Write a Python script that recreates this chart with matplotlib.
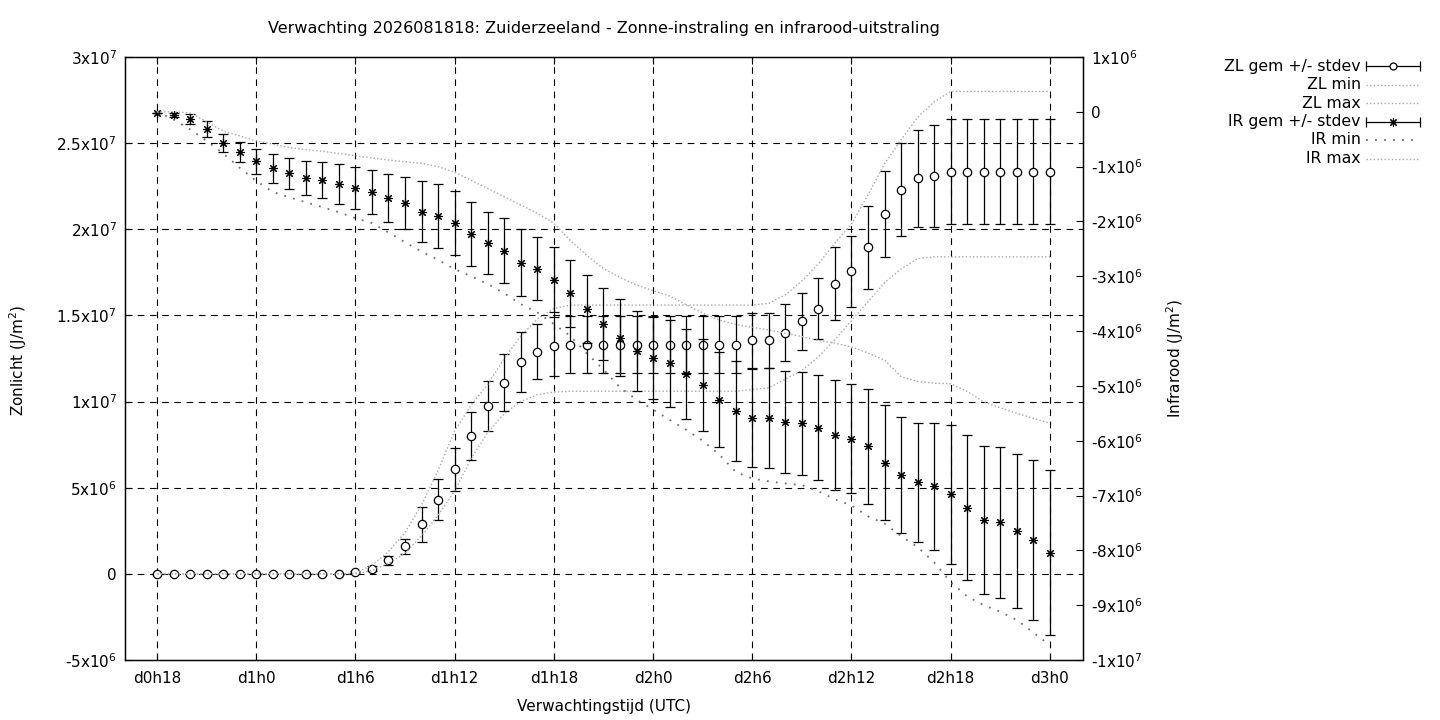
import matplotlib
matplotlib.use("Agg")
import matplotlib.pyplot as plt
import numpy as np
from matplotlib.lines import Line2D

# ---------------- data ----------------
hours = list(range(55))
x_tick_pos = [0, 6, 12, 18, 24, 30, 36, 42, 48, 54]
x_tick_labels = ["d0h18", "d1h0", "d1h6", "d1h12", "d1h18", "d2h0", "d2h6", "d2h12", "d2h18", "d3h0"]

zl_mean = [0, 0, 0, 0, 0, 0, 0, 0, 0, 0, 0, 0,
           0.1e6, 0.3e6, 0.78e6, 1.6e6, 2.87e6, 4.3e6, 6.06e6, 8.0e6, 9.72e6, 11.1e6,
           12.3e6, 12.9e6, 13.2e6, 13.3e6, 13.3e6, 13.3e6, 13.3e6, 13.3e6, 13.3e6, 13.3e6,
           13.3e6, 13.3e6, 13.3e6, 13.3e6, 13.55e6, 13.55e6, 14.0e6, 14.65e6, 15.4e6, 16.85e6,
           17.55e6, 18.95e6, 20.9e6, 22.3e6, 22.95e6, 23.1e6, 23.35e6, 23.35e6, 23.35e6,
           23.35e6, 23.35e6, 23.35e6, 23.35e6]
zl_std = [0, 0, 0, 0, 0, 0, 0, 0, 0, 0, 0, 0,
          0.05e6, 0.15e6, 0.25e6, 0.45e6, 1.0e6, 1.2e6, 1.25e6, 1.4e6, 1.45e6, 1.65e6,
          1.75e6, 1.6e6, 1.7e6, 1.65e6, 1.65e6, 1.65e6, 1.65e6, 1.65e6, 1.65e6, 1.65e6,
          1.65e6, 1.65e6, 1.65e6, 1.65e6, 1.6e6, 1.6e6, 1.65e6, 1.65e6, 1.77e6, 2.1e6,
          2.05e6, 2.4e6, 2.5e6, 2.7e6, 2.8e6, 2.95e6, 3.05e6, 3.05e6, 3.05e6,
          3.05e6, 3.05e6, 3.05e6, 3.05e6]
zl_min = [0, 0, 0, 0, 0, 0, 0, 0, 0, 0, 0, 0,
          0, 0.2e6, 0.6e6, 1.2e6, 2.2e6, 3.4e6, 4.8e6, 6.7e6, 8.2e6, 9.3e6,
          10.0e6, 10.4e6, 10.55e6, 10.6e6, 10.6e6, 10.6e6, 10.6e6, 10.6e6, 10.6e6, 10.6e6,
          10.6e6, 10.6e6, 10.6e6, 10.6e6, 10.7e6, 10.8e6, 11.3e6, 11.8e6, 12.6e6, 13.6e6,
          14.7e6, 15.8e6, 16.9e6, 17.7e6, 18.3e6, 18.4e6, 18.4e6, 18.4e6, 18.4e6,
          18.4e6, 18.4e6, 18.4e6, 18.4e6]
zl_max = [0, 0, 0, 0, 0, 0, 0, 0, 0, 0, 0, 0,
          0.05e6, 0.5e6, 1.3e6, 2.4e6, 4.0e6, 6.0e6, 8.3e6, 9.8e6, 11.0e6, 12.5e6,
          13.8e6, 14.8e6, 15.4e6, 15.6e6, 15.6e6, 15.6e6, 15.6e6, 15.6e6, 15.6e6, 15.6e6,
          15.6e6, 15.6e6, 15.6e6, 15.6e6, 15.6e6, 15.7e6, 16.2e6, 17.0e6, 18.0e6, 19.2e6,
          20.3e6, 22.0e6, 23.8e6, 25.2e6, 26.5e6, 27.4e6, 28.0e6, 28.0e6, 28.0e6,
          28.0e6, 28.0e6, 28.0e6, 28.0e6]

ir_mean = [-0.02e6, -0.06e6, -0.13e6, -0.31e6, -0.57e6, -0.73e6, -0.90e6, -1.03e6, -1.12e6, -1.20e6,
           -1.24e6, -1.32e6, -1.39e6, -1.47e6, -1.57e6, -1.66e6, -1.82e6, -1.90e6, -2.03e6, -2.23e6,
           -2.39e6, -2.53e6, -2.75e6, -2.86e6, -3.06e6, -3.31e6, -3.60e6, -3.87e6, -4.12e6, -4.37e6,
           -4.49e6, -4.59e6, -4.78e6, -4.99e6, -5.25e6, -5.46e6, -5.59e6, -5.59e6, -5.65e6, -5.68e6,
           -5.76e6, -5.90e6, -5.96e6, -6.10e6, -6.40e6, -6.63e6, -6.76e6, -6.83e6, -6.98e6, -7.22e6,
           -7.45e6, -7.49e6, -7.65e6, -7.81e6, -8.04e6]
ir_std = [0.0, 0.03e6, 0.09e6, 0.15e6, 0.16e6, 0.18e6, 0.23e6, 0.26e6, 0.28e6, 0.31e6,
          0.33e6, 0.36e6, 0.38e6, 0.40e6, 0.44e6, 0.47e6, 0.56e6, 0.58e6, 0.59e6, 0.58e6,
          0.57e6, 0.59e6, 0.61e6, 0.57e6, 0.59e6, 0.61e6, 0.62e6, 0.66e6, 0.70e6, 0.73e6,
          0.75e6, 0.80e6, 0.82e6, 0.84e6, 0.87e6, 0.91e6, 0.89e6, 0.91e6, 0.93e6, 0.94e6,
          0.95e6, 1.0e6, 1.0e6, 1.05e6, 1.05e6, 1.06e6, 1.08e6, 1.16e6, 1.26e6, 1.32e6,
          1.35e6, 1.38e6, 1.40e6, 1.46e6, 1.51e6]
ir_min = [0, -0.14e6, -0.32e6, -0.53e6, -0.76e6, -1.02e6, -1.26e6, -1.46e6, -1.56e6, -1.65e6,
          -1.74e6, -1.83e6, -1.94e6, -2.03e6, -2.20e6, -2.38e6, -2.55e6, -2.70e6, -2.87e6, -3.00e6,
          -3.14e6, -3.31e6, -3.51e6, -3.66e6, -3.87e6, -4.09e6, -4.41e6, -4.70e6, -5.03e6, -5.25e6,
          -5.43e6, -5.62e6, -5.80e6, -6.00e6, -6.25e6, -6.57e6, -6.69e6, -6.74e6, -6.78e6, -6.81e6,
          -6.92e6, -7.07e6, -7.18e6, -7.38e6, -7.51e6, -7.74e6, -7.94e6, -8.22e6, -8.58e6, -8.84e6,
          -9.00e6, -9.12e6, -9.27e6, -9.50e6, -9.73e6]
ir_max = [0, 0, -0.02e6, -0.18e6, -0.35e6, -0.44e6, -0.53e6, -0.59e6, -0.65e6, -0.69e6,
          -0.72e6, -0.76e6, -0.80e6, -0.84e6, -0.88e6, -0.91e6, -0.94e6, -1.00e6, -1.10e6, -1.25e6,
          -1.40e6, -1.55e6, -1.70e6, -1.85e6, -2.03e6, -2.35e6, -2.62e6, -2.86e6, -3.02e6, -3.16e6,
          -3.26e6, -3.36e6, -3.52e6, -3.67e6, -3.80e6, -3.88e6, -3.93e6, -3.98e6, -4.04e6, -4.10e6,
          -4.17e6, -4.22e6, -4.29e6, -4.40e6, -4.53e6, -4.83e6, -4.92e6, -4.95e6, -4.96e6, -5.10e6,
          -5.29e6, -5.40e6, -5.50e6, -5.59e6, -5.68e6]

left_ticks = [-5e6, 0, 5e6, 1e7, 1.5e7, 2e7, 2.5e7, 3e7]
left_tick_labels = [r"-5x10$^{6}$", "0", r"5x10$^{6}$", r"1x10$^{7}$", r"1.5x10$^{7}$",
                    r"2x10$^{7}$", r"2.5x10$^{7}$", r"3x10$^{7}$"]
right_ticks = [1e6, 0, -1e6, -2e6, -3e6, -4e6, -5e6, -6e6, -7e6, -8e6, -9e6, -1e7]
right_tick_labels = [r"1x10$^{6}$", "0", r"-1x10$^{6}$", r"-2x10$^{6}$", r"-3x10$^{6}$",
                     r"-4x10$^{6}$", r"-5x10$^{6}$", r"-6x10$^{6}$", r"-7x10$^{6}$",
                     r"-8x10$^{6}$", r"-9x10$^{6}$", r"-1x10$^{7}$"]

legend_labels = ["ZL gem +/- stdev", "ZL min", "ZL max", "IR gem +/- stdev", "IR min", "IR max"]

title = "Verwachting 2026081818: Zuiderzeeland - Zonne-instraling en infrarood-uitstraling"

# ---------------- styles ----------------
plt.rcParams["font.family"] = ["DejaVu Sans"]
plt.rcParams["font.size"] = 11
FS = 11
light = dict(color="#a8a8a8", lw=1.0, ls=(0, (1, 1.6)))
dark_dot = dict(color="#707070", lw=1.3, ls=(0, (1, 4)))
asterisk = (8, 2, 0)
EW = 0.9

W, H = 1440, 720
fig = plt.figure(figsize=(W / 100, H / 100), dpi=100)
L, R, T, B = 125, 1083, 57, 660
ax = fig.add_axes([L / W, 1 - B / H, (R - L) / W, (B - T) / H])
ax2 = ax.twinx()

ax.set_xlim(-1.935, 56.0)
ax.set_ylim(-5e6, 3e7)
ax2.set_ylim(-1e7, 1e6)

# grid
for xv in x_tick_pos:
    ax.axvline(xv, color="black", lw=0.8, ls=(0, (6, 5)), zorder=0.5)
for yv in left_ticks[1:-1]:
    ax.axhline(yv, color="black", lw=0.8, ls=(0, (6, 5)), zorder=0.5)

# ZL
ax.errorbar(hours, zl_mean, yerr=zl_std, fmt="o", ms=6, mfc="white", mec="black", mew=0.9,
            ecolor="black", elinewidth=EW, capsize=3.5, capthick=EW, color="black", zorder=3)
ax.plot(hours, zl_min, **light, zorder=3.5)
ax.plot(hours, zl_max, **light, zorder=3.5)

# IR
ax2.errorbar(hours, ir_mean, yerr=ir_std, fmt="none", ecolor="black", elinewidth=EW,
             capsize=3.5, capthick=EW, zorder=3)
ax2.plot(hours, ir_mean, ls="none", marker=asterisk, ms=6.5, mec="black", mew=0.8, color="black", zorder=3.2)
ax2.plot(hours, ir_min, **dark_dot, zorder=3.5)
ax2.plot(hours, ir_max, **light, zorder=3.5)

# ticks
ax.set_xticks(x_tick_pos)
ax.set_xticklabels(x_tick_labels, fontsize=FS)
ax.set_yticks(left_ticks)
ax.set_yticklabels(left_tick_labels, fontsize=FS)
ax2.set_yticks(right_ticks)
ax2.set_yticklabels(right_tick_labels, fontsize=FS)
ax.tick_params(axis="x", direction="in", length=5, top=True, pad=8, width=0.8)
ax.tick_params(axis="y", direction="in", length=5, right=False, pad=6, width=0.8)
ax2.tick_params(axis="y", direction="in", length=5, pad=6, width=0.8)
for a in (ax, ax2):
    for s in a.spines.values():
        s.set_linewidth(0.9)

# labels
fig.text(604 / W, 1 - 29 / H, title, ha="center", va="center", fontsize=11.5)
fig.text(604 / W, 1 - 707 / H, "Verwachtingstijd (UTC)", ha="center", va="center", fontsize=FS)
fig.text(18 / W, 1 - 360 / H, r"Zonlicht (J/m$^{2}$)", ha="center", va="center", rotation=90, fontsize=FS)
fig.text(1175 / W, 1 - 358 / H, r"Infrarood (J/m$^{2}$)", ha="center", va="center", rotation=90, fontsize=FS)

# legend (gnuplot style: right-aligned text, sample on the right)
rows = [66, 84.5, 103, 121.5, 140, 158.5]
x0, x1 = 1366, 1420
tf = fig.transFigure
for i, (lab, yy) in enumerate(zip(legend_labels, rows)):
    yf = 1 - yy / H
    fig.text(1361 / W, yf, lab, ha="right", va="center", fontsize=11.3)
    if i in (0, 3):
        fig.add_artist(Line2D([x0 / W, x1 / W], [yf, yf], color="black", lw=EW, transform=tf))
        fig.add_artist(Line2D([x0 / W, x1 / W], [yf, yf], ls="none", marker="|", ms=7,
                              mew=EW, color="black", transform=tf))
        if i == 0:
            fig.add_artist(Line2D([(x0 + x1) / 2 / W], [yf], ls="none", marker="o", ms=5,
                                  mfc="white", mec="black", mew=0.9, transform=tf))
        else:
            fig.add_artist(Line2D([(x0 + x1) / 2 / W], [yf], ls="none", marker=asterisk, ms=6,
                                  mec="black", mew=0.8, color="black", transform=tf))
    else:
        st = dark_dot if i == 4 else light
        fig.add_artist(Line2D([x0 / W, x1 / W], [yf, yf], transform=tf, **st))

fig.savefig("out.png", dpi=100)
